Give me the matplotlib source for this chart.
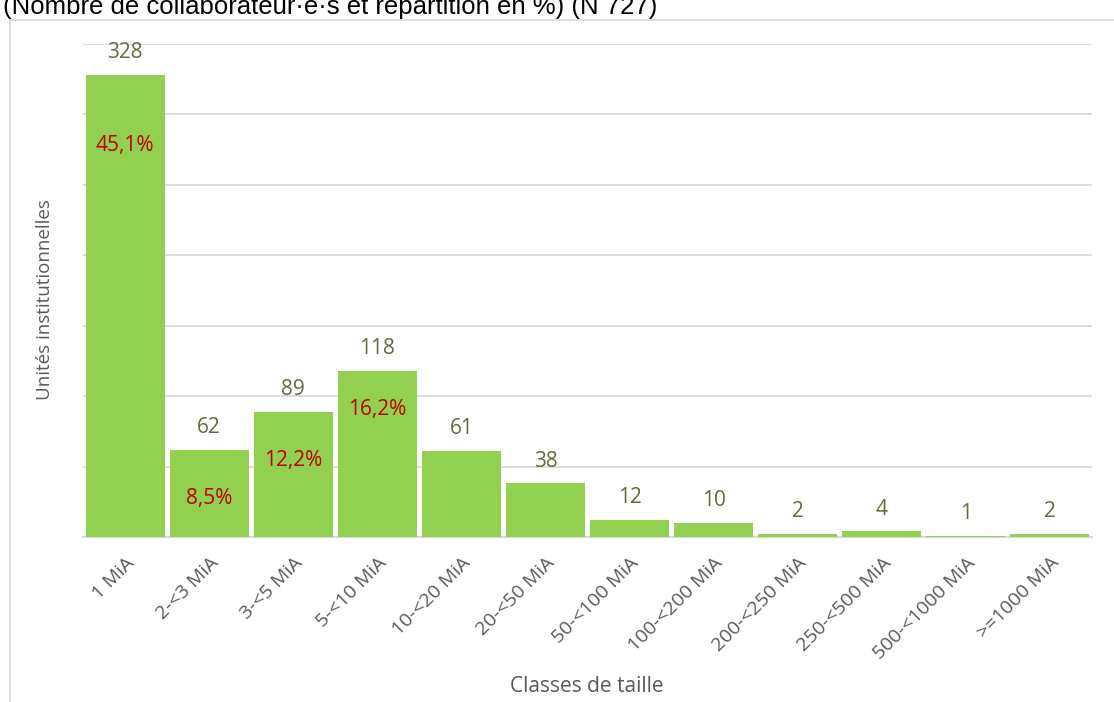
import matplotlib.pyplot as plt
from matplotlib.patches import Rectangle

classes = ['1 MiA', '2-<3 MiA', '3-<5 MiA', '5-<10 MiA', '10-<20 MiA', '20-<50 MiA',
           '50-<100 MiA', '100-<200 MiA', '200-<250 MiA', '250-<500 MiA',
           '500-<1000 MiA', '>=1000 MiA']
unites = [328, 62, 89, 118, 61, 38, 12, 10, 2, 4, 1, 2]

# pourcentages affichés dans les 4 premières barres
pct_labels = ['45,1%', '8,5%', '12,2%', '16,2%']
pct_offsets = [51, 35, 35, 28]  # points sous le haut de la barre

font = ['Open Sans', 'DejaVu Sans']
green = '#92d050'
olive = '#5b6e3a'
red = '#c00000'
grey = '#595959'

fig = plt.figure(figsize=(11.14, 7.02), dpi=100)
ax = fig.add_axes([83 / 1114, 1 - 537 / 702, 1009 / 1114, (537 - 44) / 702])

x = range(len(classes))
bars = ax.bar(x, unites, width=0.94, color=green, zorder=3)

ax.set_xlim(-0.5, len(classes) - 0.5)
ax.set_ylim(0, 350)
ax.set_yticks(range(0, 351, 50))
ax.set_yticklabels([])
ax.tick_params(axis='y', length=0)
ax.tick_params(axis='x', length=0, pad=12)
ax.grid(axis='y', color='#d9d9d9', linewidth=1.3, zorder=0)
for s in ['top', 'right', 'left']:
    ax.spines[s].set_visible(False)
ax.spines['bottom'].set_color('#d9d9d9')
ax.spines['bottom'].set_linewidth(1.5)

ax.set_xticks(list(x))
ax.set_xticklabels(classes, rotation=45, ha='right', rotation_mode='anchor',
                   fontsize=14, color=grey, family=font)

for i, v in enumerate(unites):
    ax.annotate(str(v), (i, v), xytext=(0, 16), textcoords='offset points',
                ha='center', va='center', fontsize=15, color=olive, family=font)

for i, (lab, off) in enumerate(zip(pct_labels, pct_offsets)):
    ax.annotate(lab, (i, unites[i]), xytext=(0, -off), textcoords='offset points',
                ha='center', va='center', fontsize=15, color=red, family=font)

fig.text(45 / 1114, 1 - 300 / 702, 'Unités institutionnelles', rotation=90,
         ha='center', va='center', fontsize=13.5, color=grey, family=font)
fig.text(587 / 1114, 1 - 686 / 702, 'Classes de taille', ha='center', va='center',
         fontsize=15, color=grey, family=font)

# cadre gris autour du graphique
fig.patches.append(Rectangle((10 / 1114, -0.05), 1.1, 1 - 20 / 702 + 0.05,
                             transform=fig.transFigure, fill=False,
                             edgecolor='#d9d9d9', linewidth=1.2))

# titre coupé en haut de l'image
fig.text(3 / 1114, 1 - 14 / 702, '(Nombre de collaborateur·e·s et répartition en %) (N 727)',
         ha='left', va='baseline', fontsize=18.5, color='black',
         family=['Liberation Sans', 'DejaVu Sans'])

fig.savefig('out.png', dpi=100)
